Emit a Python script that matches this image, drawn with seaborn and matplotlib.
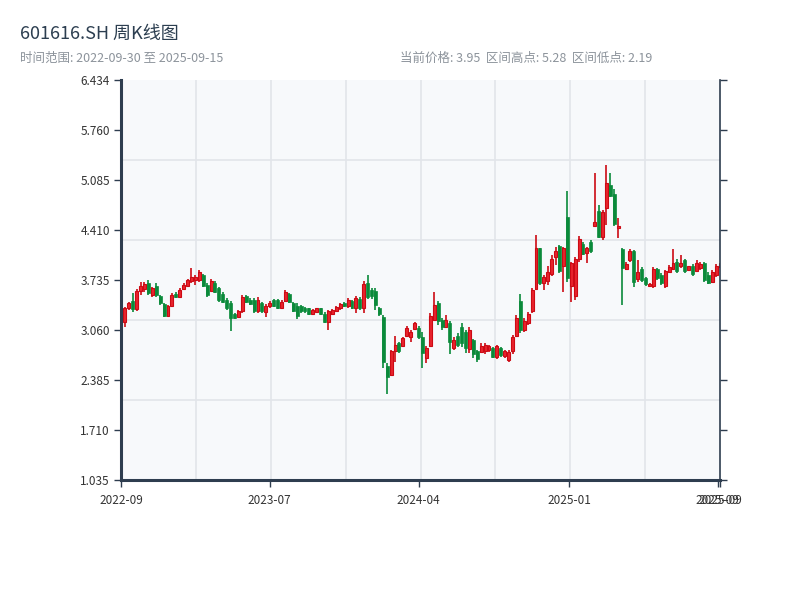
import matplotlib
matplotlib.use("Agg")
import matplotlib.pyplot as plt
import numpy as np
import pandas as pd
import seaborn as sns

# weekly OHLC (154 weeks)
OPEN = [3.31, 3.17, 3.35, 3.45, 3.34, 3.58, 3.61, 3.70, 3.53, 3.66,
        3.52, 3.41, 3.25, 3.39, 3.55, 3.51, 3.61, 3.65, 3.72, 3.74,
        3.74, 3.80, 3.67, 3.59, 3.70, 3.62, 3.54, 3.47, 3.43, 3.28,
        3.24, 3.31, 3.52, 3.47, 3.46, 3.32, 3.43, 3.30, 3.38, 3.46,
        3.46, 3.36, 3.45, 3.55, 3.42, 3.38, 3.38, 3.36, 3.35, 3.28,
        3.30, 3.35, 3.28, 3.17, 3.28, 3.31, 3.35, 3.43, 3.38, 3.45,
        3.35, 3.48, 3.35, 3.70, 3.60, 3.58, 3.36, 3.24, 2.58, 2.45,
        2.78, 2.88, 2.84, 2.98, 2.97, 3.07, 3.09, 2.97, 2.68, 2.85,
        3.19, 3.42, 3.20, 3.10, 3.16, 2.82, 2.98, 3.10, 3.03, 2.80,
        2.92, 2.77, 2.76, 2.78, 2.79, 2.82, 2.69, 2.82, 2.71, 2.66,
        2.77, 2.98, 3.45, 3.06, 3.16, 3.31, 3.61, 4.16, 3.69, 3.72,
        3.82, 4.05, 4.19, 3.93, 4.58, 3.66, 3.52, 4.02, 4.22, 4.10,
        4.25, 4.47, 4.67, 4.31, 4.71, 5.02, 4.90, 4.44, 4.15, 3.88,
        4.00, 4.12, 3.75, 3.88, 3.76, 3.65, 3.66, 3.88, 3.80, 3.66,
        3.84, 3.88, 3.98, 3.93, 4.00, 3.87, 3.93, 3.86, 3.90, 3.96,
        3.80, 3.71, 3.80, 3.91]
HIGH = [3.34, 3.37, 3.44, 3.56, 3.61, 3.71, 3.71, 3.74, 3.64, 3.69,
        3.53, 3.42, 3.40, 3.56, 3.57, 3.63, 3.69, 3.75, 3.90, 3.80,
        3.87, 3.82, 3.69, 3.75, 3.72, 3.64, 3.57, 3.49, 3.45, 3.29,
        3.33, 3.53, 3.53, 3.49, 3.49, 3.50, 3.44, 3.41, 3.45, 3.48,
        3.48, 3.46, 3.60, 3.56, 3.44, 3.42, 3.40, 3.37, 3.36, 3.34,
        3.36, 3.36, 3.30, 3.33, 3.34, 3.38, 3.42, 3.44, 3.49, 3.46,
        3.52, 3.50, 3.72, 3.80, 3.63, 3.63, 3.37, 3.26, 2.61, 2.79,
        2.98, 2.90, 2.97, 3.11, 3.06, 3.17, 3.11, 3.03, 2.84, 3.29,
        3.57, 3.45, 3.22, 3.26, 3.18, 2.97, 3.02, 3.15, 3.06, 3.10,
        2.94, 2.79, 2.88, 2.88, 2.86, 2.83, 2.86, 2.83, 2.79, 2.79,
        2.99, 3.26, 3.55, 3.22, 3.30, 3.63, 4.34, 4.17, 3.80, 3.92,
        4.07, 4.18, 4.21, 4.18, 4.94, 3.98, 4.05, 4.33, 4.25, 4.18,
        4.28, 5.18, 4.75, 4.68, 5.28, 5.18, 4.96, 4.57, 4.16, 3.98,
        4.15, 4.14, 4.00, 3.91, 3.77, 3.69, 3.91, 3.90, 3.83, 3.87,
        3.94, 4.15, 4.02, 4.07, 4.02, 3.93, 3.95, 4.00, 3.98, 3.98,
        3.84, 3.87, 3.95, 3.96]
LOW = [3.17, 3.10, 3.33, 3.30, 3.31, 3.53, 3.57, 3.53, 3.50, 3.50,
       3.40, 3.23, 3.23, 3.37, 3.49, 3.50, 3.60, 3.64, 3.69, 3.67,
       3.71, 3.64, 3.50, 3.58, 3.56, 3.44, 3.42, 3.33, 3.05, 3.21,
       3.23, 3.29, 3.42, 3.40, 3.29, 3.29, 3.29, 3.24, 3.36, 3.37,
       3.34, 3.34, 3.44, 3.42, 3.30, 3.21, 3.29, 3.29, 3.26, 3.26,
       3.29, 3.26, 3.15, 3.06, 3.26, 3.30, 3.33, 3.37, 3.36, 3.34,
       3.29, 3.33, 3.29, 3.48, 3.48, 3.33, 3.25, 2.55, 2.19, 2.44,
       2.63, 2.75, 2.83, 2.97, 2.90, 3.06, 2.94, 2.55, 2.61, 2.83,
       3.18, 3.13, 3.06, 3.09, 2.74, 2.79, 2.83, 2.83, 2.75, 2.75,
       2.68, 2.63, 2.75, 2.74, 2.76, 2.68, 2.67, 2.69, 2.68, 2.63,
       2.74, 2.97, 3.02, 3.03, 3.13, 3.29, 3.60, 3.67, 3.60, 3.67,
       3.79, 3.94, 3.83, 3.57, 3.71, 3.44, 3.46, 3.98, 4.07, 3.96,
       4.10, 4.45, 4.30, 4.28, 4.48, 4.86, 4.46, 4.30, 3.40, 3.87,
       3.98, 3.64, 3.71, 3.71, 3.65, 3.64, 3.63, 3.735, 3.67, 3.63,
       3.83, 3.87, 3.83, 3.90, 3.83, 3.86, 3.79, 3.84, 3.87, 3.71,
       3.68, 3.69, 3.77, 3.90]
CLOSE = [3.21, 3.35, 3.42, 3.34, 3.59, 3.66, 3.68, 3.56, 3.62, 3.53,
         3.42, 3.25, 3.38, 3.53, 3.50, 3.60, 3.67, 3.73, 3.78, 3.78,
         3.84, 3.66, 3.53, 3.72, 3.57, 3.47, 3.44, 3.36, 3.22, 3.22,
         3.31, 3.50, 3.44, 3.41, 3.31, 3.46, 3.31, 3.38, 3.42, 3.39,
         3.36, 3.44, 3.57, 3.44, 3.32, 3.25, 3.31, 3.31, 3.28, 3.33,
         3.35, 3.27, 3.17, 3.31, 3.33, 3.37, 3.41, 3.38, 3.47, 3.36,
         3.49, 3.36, 3.68, 3.50, 3.52, 3.40, 3.27, 2.63, 2.42, 2.78,
         2.86, 2.78, 2.95, 3.08, 3.03, 3.15, 2.96, 2.75, 2.82, 3.25,
         3.40, 3.18, 3.10, 3.20, 2.90, 2.93, 2.86, 2.88, 2.82, 3.06,
         2.74, 2.67, 2.84, 2.86, 2.85, 2.70, 2.84, 2.72, 2.77, 2.76,
         2.96, 3.22, 3.06, 3.18, 3.27, 3.60, 4.17, 3.70, 3.77, 3.84,
         4.02, 4.12, 3.86, 4.17, 3.76, 3.96, 4.02, 4.29, 4.09, 4.16,
         4.12, 4.52, 4.31, 4.65, 5.04, 4.87, 4.49, 4.47, 3.89, 3.95,
         4.12, 3.71, 3.84, 3.74, 3.68, 3.68, 3.88, 3.76, 3.69, 3.85,
         3.91, 3.96, 3.86, 3.96, 3.86, 3.92, 3.82, 3.97, 3.95, 3.74,
         3.70, 3.84, 3.92, 3.95]

X_TICK_LABELS = ["2022-09", "2023-07", "2024-04", "2025-01", "2025-09", "2025-09"]
Y_TICK_LABELS = ["1.035", "1.710", "2.385", "3.060", "3.735", "4.410", "5.085", "5.760", "6.434"]
Y_MIN, Y_MAX = 1.035, 6.434

TITLE = "601616.SH 周K线图"
SUBTITLE = "时间范围: 2022-09-30 至 2025-09-15"
INFO = "当前价格: 3.95  区间高点: 5.28  区间低点: 2.19"

UP_EDGE = "#cc0a14"
UP_FACE = "#e8242d"
DOWN_COLOR = "#0a8a3a"
SPINE_COLOR = "#2e3d4f"
GRID_COLOR = "#e2e5ea"

sns.set_theme(style="white")
plt.rcParams["font.family"] = ["Noto Sans CJK SC", "DejaVu Sans"]

df = pd.DataFrame({"open": OPEN, "high": HIGH, "low": LOW, "close": CLOSE})
df["idx"] = np.arange(len(df))
df["up"] = df["close"] >= df["open"]

fig = plt.figure(figsize=(8, 6), dpi=100)
ax = fig.add_axes([121 / 800, 120 / 600, 599 / 800, 400 / 600])
ax.set_facecolor("#f7f9fb")

# grid drawn in axes fractions (8 columns x 5 rows)
for f in np.arange(1, 8) / 8:
    ax.plot([f, f], [0, 1], transform=ax.transAxes, color=GRID_COLOR, lw=1.2, zorder=0)
for f in np.arange(1, 5) / 5:
    ax.plot([0, 1], [f, f], transform=ax.transAxes, color=GRID_COLOR, lw=1.2, zorder=0)

up = df[df["up"]]
down = df[~df["up"]]

# wicks
ax.vlines(up["idx"], up["low"], up["high"], color=UP_EDGE, lw=1.2, zorder=2)
ax.vlines(down["idx"], down["low"], down["high"], color=DOWN_COLOR, lw=1.2, zorder=2)

# bodies
body_w = 0.75
up_h = np.maximum(up["close"] - up["open"], 0.012)
ax.bar(up["idx"], up_h, bottom=up["open"], width=body_w, color=UP_FACE,
       edgecolor=UP_EDGE, linewidth=0.8, zorder=3)
down_h = np.maximum(down["open"] - down["close"], 0.012)
ax.bar(down["idx"], down_h, bottom=down["close"], width=body_w, color=DOWN_COLOR,
       edgecolor=DOWN_COLOR, linewidth=0.5, zorder=3)

ax.set_xlim(0, len(df) - 1)
ax.set_ylim(Y_MIN, Y_MAX)

ax.set_xticks([0, 38, 76, 114.5, 152.4, 153])
ax.set_xticklabels(X_TICK_LABELS)
ax.set_yticks(np.linspace(Y_MIN, Y_MAX, len(Y_TICK_LABELS)))
ax.set_yticklabels(Y_TICK_LABELS)

ax.tick_params(axis="both", which="both", direction="out", length=5, width=1,
               color=SPINE_COLOR, labelsize=8.5, labelcolor="#333333")
ax.tick_params(axis="y", right=True, left=True, pad=3)
ax.tick_params(axis="x", bottom=True, pad=5)

ax.spines["top"].set_visible(False)
ax.spines["left"].set_color(SPINE_COLOR)
ax.spines["left"].set_linewidth(2.2)
ax.spines["bottom"].set_color(SPINE_COLOR)
ax.spines["bottom"].set_linewidth(2.2)
ax.spines["right"].set_color(SPINE_COLOR)
ax.spines["right"].set_linewidth(1.2)
for s in ["left", "bottom", "right"]:
    ax.spines[s].set_zorder(5)

fig.text(20 / 800, 1 - 34 / 600, TITLE, fontsize=13, color="#2c3e50", va="center", ha="left")
fig.text(20 / 800, 1 - 58 / 600, SUBTITLE, fontsize=9, color="#8c939b", va="center", ha="left")
fig.text(400 / 800, 1 - 58 / 600, INFO, fontsize=9, color="#8c939b", va="center", ha="left")

fig.savefig("out.png", dpi=100)
